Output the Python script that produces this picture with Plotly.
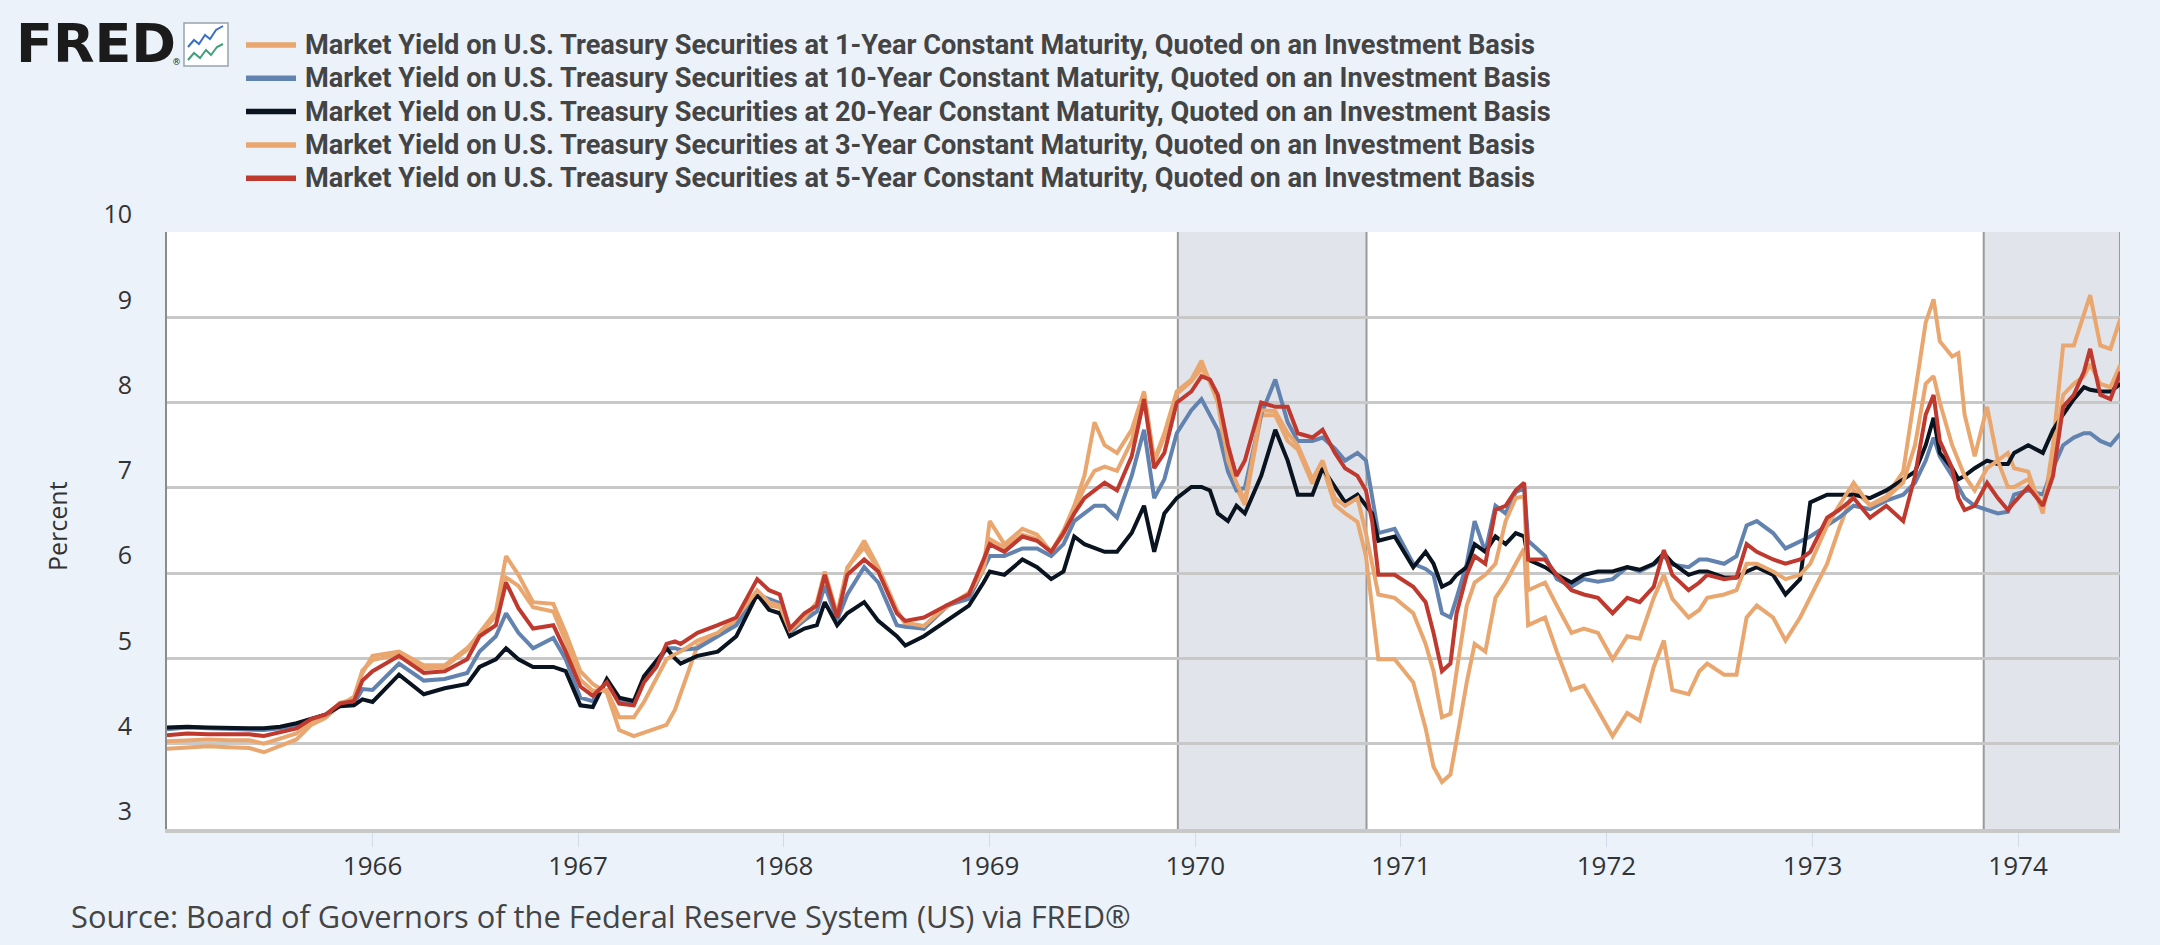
"""
plot.py
Rendimentos diários dos Treasuries (1, 3, 5, 10 e 20 anos), 1965-1974, no estilo do FRED.
"""

import pandas as pd
import plotly.graph_objects as go

# --- dados (ano decimal, % a.a.) ---
T_YEAR = [
    1965.00, 1965.10, 1965.20, 1965.30, 1965.40, 1965.47, 1965.55, 1965.63, 1965.70, 1965.77,
    1965.84, 1965.91, 1965.95, 1966.00, 1966.13, 1966.25, 1966.35, 1966.46, 1966.52, 1966.60,
    1966.65, 1966.71, 1966.78, 1966.88, 1966.94, 1967.01, 1967.07, 1967.14, 1967.20, 1967.27,
    1967.32, 1967.38, 1967.43, 1967.47, 1967.50, 1967.58, 1967.68, 1967.77, 1967.87, 1967.93,
    1967.98, 1968.03, 1968.10, 1968.16, 1968.20, 1968.26, 1968.31, 1968.39, 1968.46, 1968.55,
    1968.59, 1968.68, 1968.79, 1968.90, 1968.97, 1969.00, 1969.07, 1969.16, 1969.23, 1969.30,
    1969.36, 1969.41, 1969.46, 1969.51, 1969.56, 1969.62, 1969.69, 1969.75, 1969.80, 1969.85,
    1969.91, 1969.98, 1970.03, 1970.07, 1970.11, 1970.16, 1970.20, 1970.24, 1970.32, 1970.39,
    1970.45, 1970.50, 1970.57, 1970.62, 1970.68, 1970.73, 1970.79, 1970.83, 1970.86, 1970.89,
    1970.97, 1971.06, 1971.12, 1971.16, 1971.20, 1971.24, 1971.27, 1971.32, 1971.36, 1971.41,
    1971.46, 1971.51, 1971.56, 1971.60, 1971.62, 1971.70, 1971.76, 1971.83, 1971.89, 1971.96,
    1972.03, 1972.10, 1972.16, 1972.23, 1972.28, 1972.32, 1972.40, 1972.45, 1972.49, 1972.57,
    1972.63, 1972.68, 1972.73, 1972.81, 1972.87, 1972.94, 1972.99, 1973.07, 1973.13, 1973.20,
    1973.28, 1973.36, 1973.44, 1973.50, 1973.55, 1973.59, 1973.62, 1973.68, 1973.71, 1973.74,
    1973.79, 1973.85, 1973.90, 1973.95, 1973.98, 1974.05, 1974.12, 1974.17, 1974.22, 1974.27,
    1974.32, 1974.35, 1974.40, 1974.45, 1974.50,
]

DGS1 = [
    3.94, 3.95, 3.97, 3.96, 3.95, 3.90, 3.97, 4.05, 4.22, 4.30,
    4.45, 4.55, 4.86, 4.98, 5.05, 4.88, 4.90, 5.10, 5.30, 5.55,
    6.20, 5.98, 5.66, 5.64, 5.30, 4.85, 4.70, 4.60, 4.16, 4.09,
    4.13, 4.18, 4.22, 4.40, 4.58, 5.15, 5.28, 5.45, 5.75, 5.62,
    5.60, 5.32, 5.45, 5.64, 5.95, 5.50, 6.05, 6.38, 6.07, 5.57,
    5.40, 5.35, 5.60, 5.77, 6.07, 6.61, 6.34, 6.52, 6.45, 6.25,
    6.50, 6.79, 7.14, 7.77, 7.50, 7.41, 7.68, 8.13, 7.32, 7.64,
    8.13, 8.27, 8.49, 8.22, 8.00, 7.25, 7.00, 6.80, 7.85, 7.85,
    7.55, 7.45, 7.05, 7.25, 6.80, 6.70, 6.60, 6.20, 5.60, 4.99,
    4.99, 4.72, 4.18, 3.73, 3.55, 3.64, 4.04, 4.72, 5.17, 5.08,
    5.71, 5.89, 6.11, 6.29, 5.39, 5.48, 5.08, 4.63, 4.68, 4.40,
    4.09, 4.36, 4.27, 4.90, 5.21, 4.63, 4.58, 4.85, 4.94, 4.81,
    4.81, 5.48, 5.62, 5.48, 5.21, 5.48, 5.71, 6.11, 6.52, 6.97,
    6.80, 6.90, 7.19, 8.13, 8.94, 9.21, 8.72, 8.54, 8.58, 7.86,
    7.37, 7.95, 7.32, 7.41, 7.23, 7.19, 6.70, 7.50, 8.67, 8.67,
    9.03, 9.26, 8.67, 8.63, 8.99,
]

DGS3 = [
    4.03, 4.04, 4.05, 4.04, 4.04, 4.00, 4.06, 4.12, 4.27, 4.33,
    4.48, 4.52, 4.83, 5.03, 5.08, 4.92, 4.92, 5.12, 5.28, 5.50,
    5.95, 5.85, 5.60, 5.55, 5.20, 4.75, 4.62, 4.63, 4.31, 4.31,
    4.49, 4.76, 4.99, 5.05, 5.08, 5.21, 5.30, 5.48, 5.80, 5.66,
    5.62, 5.33, 5.48, 5.66, 6.02, 5.52, 6.07, 6.30, 6.05, 5.55,
    5.42, 5.38, 5.62, 5.75, 6.05, 6.40, 6.30, 6.45, 6.40, 6.25,
    6.45, 6.75, 7.00, 7.20, 7.25, 7.20, 7.55, 8.10, 7.30, 7.60,
    8.10, 8.25, 8.40, 8.25, 8.05, 7.32, 7.06, 6.85, 7.91, 7.90,
    7.64, 7.50, 7.10, 7.32, 6.88, 6.79, 6.88, 6.47, 6.11, 5.75,
    5.71, 5.53, 5.17, 4.85, 4.31, 4.35, 4.85, 5.62, 5.89, 5.98,
    6.11, 6.61, 6.88, 6.90, 5.80, 5.89, 5.62, 5.30, 5.35, 5.30,
    4.99, 5.26, 5.23, 5.71, 5.98, 5.70, 5.48, 5.57, 5.71, 5.75,
    5.80, 6.11, 6.11, 6.02, 5.93, 5.98, 6.11, 6.56, 6.79, 7.06,
    6.79, 6.88, 7.06, 7.50, 8.22, 8.31, 8.00, 7.50, 7.32, 7.14,
    6.97, 7.23, 7.32, 7.01, 7.01, 7.10, 6.79, 7.32, 8.09, 8.22,
    8.31, 8.45, 8.22, 8.18, 8.45,
]

DGS5 = [
    4.10, 4.12, 4.11, 4.11, 4.11, 4.09, 4.13, 4.18, 4.29, 4.34,
    4.47, 4.50, 4.74, 4.85, 5.03, 4.83, 4.85, 4.99, 5.26, 5.39,
    5.89, 5.59, 5.35, 5.39, 5.08, 4.67, 4.56, 4.72, 4.47, 4.45,
    4.72, 4.90, 5.17, 5.20, 5.17, 5.30, 5.39, 5.48, 5.93, 5.80,
    5.75, 5.35, 5.53, 5.62, 5.98, 5.48, 5.98, 6.16, 6.02, 5.53,
    5.44, 5.48, 5.62, 5.75, 6.16, 6.34, 6.25, 6.43, 6.38, 6.25,
    6.47, 6.70, 6.88, 6.97, 7.06, 6.97, 7.37, 8.04, 7.23, 7.41,
    8.00, 8.13, 8.31, 8.27, 8.09, 7.50, 7.14, 7.32, 8.00, 7.95,
    7.95, 7.64, 7.59, 7.68, 7.41, 7.23, 7.14, 6.97, 6.61, 5.98,
    5.98, 5.84, 5.66, 5.30, 4.85, 4.94, 5.53, 5.98, 6.20, 6.11,
    6.74, 6.79, 6.97, 7.06, 6.16, 6.16, 5.98, 5.80, 5.75, 5.71,
    5.53, 5.71, 5.66, 5.84, 6.27, 5.98, 5.80, 5.89, 5.98, 5.93,
    5.95, 6.34, 6.25, 6.16, 6.11, 6.16, 6.25, 6.65, 6.74, 6.88,
    6.65, 6.79, 6.61, 7.14, 7.86, 8.09, 7.55, 7.23, 6.88, 6.74,
    6.79, 7.06, 6.88, 6.74, 6.83, 7.01, 6.79, 7.14, 7.95, 8.09,
    8.36, 8.63, 8.09, 8.04, 8.36,
]

DGS10 = [
    4.17, 4.19, 4.18, 4.17, 4.17, 4.16, 4.18, 4.22, 4.28, 4.33,
    4.45, 4.47, 4.64, 4.63, 4.94, 4.74, 4.76, 4.83, 5.08, 5.26,
    5.53, 5.30, 5.12, 5.24, 4.99, 4.54, 4.50, 4.74, 4.50, 4.47,
    4.74, 4.92, 5.12, 5.12, 5.10, 5.12, 5.26, 5.39, 5.75, 5.70,
    5.65, 5.30, 5.45, 5.55, 5.85, 5.45, 5.75, 6.07, 5.89, 5.39,
    5.37, 5.35, 5.62, 5.70, 6.07, 6.20, 6.20, 6.29, 6.29, 6.20,
    6.34, 6.61, 6.70, 6.79, 6.79, 6.65, 7.14, 7.68, 6.88, 7.10,
    7.64, 7.91, 8.04, 7.86, 7.68, 7.19, 6.97, 7.00, 7.86, 8.27,
    7.77, 7.55, 7.55, 7.59, 7.46, 7.32, 7.41, 7.32, 6.88, 6.47,
    6.52, 6.11, 6.05, 5.98, 5.53, 5.48, 5.71, 6.11, 6.61, 6.25,
    6.79, 6.70, 6.95, 7.00, 6.38, 6.20, 5.93, 5.84, 5.93, 5.90,
    5.93, 6.07, 6.02, 6.10, 6.20, 6.10, 6.07, 6.16, 6.16, 6.11,
    6.20, 6.56, 6.61, 6.47, 6.29, 6.38, 6.43, 6.56, 6.65, 6.79,
    6.75, 6.85, 6.92, 7.06, 7.32, 7.59, 7.37, 7.14, 7.00, 6.88,
    6.79, 6.74, 6.70, 6.72, 6.92, 6.97, 6.92, 7.23, 7.50, 7.59,
    7.64, 7.64, 7.55, 7.50, 7.64,
]

DGS20 = [
    4.19, 4.20, 4.19, 4.18, 4.18, 4.18, 4.20, 4.24, 4.29, 4.34,
    4.44, 4.45, 4.52, 4.49, 4.81, 4.58, 4.65, 4.70, 4.90, 4.99,
    5.12, 4.99, 4.90, 4.90, 4.85, 4.45, 4.43, 4.76, 4.54, 4.50,
    4.79, 4.97, 5.12, 5.00, 4.94, 5.03, 5.08, 5.26, 5.75, 5.57,
    5.53, 5.26, 5.35, 5.39, 5.66, 5.39, 5.53, 5.66, 5.44, 5.26,
    5.15, 5.26, 5.44, 5.62, 5.89, 6.02, 5.98, 6.16, 6.07, 5.93,
    6.02, 6.43, 6.34, 6.29, 6.25, 6.25, 6.47, 6.79, 6.25, 6.70,
    6.88, 7.01, 7.01, 6.97, 6.70, 6.61, 6.79, 6.70, 7.14, 7.68,
    7.32, 6.92, 6.92, 7.23, 7.01, 6.83, 6.92, 6.79, 6.70, 6.38,
    6.43, 6.07, 6.25, 6.11, 5.84, 5.89, 5.98, 6.07, 6.34, 6.25,
    6.43, 6.34, 6.47, 6.43, 6.16, 6.07, 5.98, 5.89, 5.98, 6.02,
    6.02, 6.07, 6.04, 6.11, 6.23, 6.12, 5.98, 6.02, 6.02, 5.95,
    5.95, 6.02, 6.07, 5.98, 5.75, 5.93, 6.83, 6.92, 6.92, 6.92,
    6.88, 6.97, 7.10, 7.19, 7.50, 7.82, 7.41, 7.23, 7.10, 7.14,
    7.23, 7.32, 7.28, 7.28, 7.41, 7.50, 7.41, 7.68, 7.86, 8.04,
    8.18, 8.15, 8.13, 8.13, 8.22,
]

NAMES = [
    "Market Yield on U.S. Treasury Securities at 1-Year Constant Maturity, Quoted on an Investment Basis",
    "Market Yield on U.S. Treasury Securities at 10-Year Constant Maturity, Quoted on an Investment Basis",
    "Market Yield on U.S. Treasury Securities at 20-Year Constant Maturity, Quoted on an Investment Basis",
    "Market Yield on U.S. Treasury Securities at 3-Year Constant Maturity, Quoted on an Investment Basis",
    "Market Yield on U.S. Treasury Securities at 5-Year Constant Maturity, Quoted on an Investment Basis",
]
COLORS = ["#e9a76f", "#6283b0", "#0a1320", "#e9a76f", "#c0392f"]

RECESSIONS = [("1969-12-01", "1970-11-01"), ("1973-11-01", "1975-03-01")]
X_RANGE = ["1965-01-01", "1974-07-01"]
TICK_YEARS = [1966, 1967, 1968, 1969, 1970, 1971, 1972, 1973, 1974]
Y_RANGE = [3, 10]

Y_TITLE = "Percent"
SOURCE = "Source: Board of Governors of the Federal Reserve System (US) via FRED®"

# --- geometria da página (px) ---
W, H = 2160, 945
M_L, M_R, M_T, M_B = 167, 40, 232, 116
PLOT_W = W - M_L - M_R
PLOT_H = H - M_T - M_B

BG = "#ebf2fa"
GRID = "#c8c8c8"
TXT = "#333333"


def _to_date(t: float) -> pd.Timestamp:
    """Ano decimal -> data."""
    year = int(t)
    start = pd.Timestamp(year=year, month=1, day=1)
    days = (pd.Timestamp(year=year + 1, month=1, day=1) - start).days
    return start + pd.Timedelta(days=round((t - year) * days))


def _px(x):
    return (x - M_L) / PLOT_W


def _py(y):
    return (H - M_B - y) / PLOT_H


def _path(points):
    return "M " + " L ".join(f"{_px(x)},{_py(y)}" for x, y in points)


dates = [_to_date(t) for t in T_YEAR]
series = [DGS1, DGS10, DGS20, DGS3, DGS5]

fig = go.Figure()
for name, values, color in zip(NAMES, series, COLORS):
    fig.add_trace(go.Scatter(
        x=dates, y=values, name=name, mode="lines",
        line=dict(color=color, width=4),
    ))

# --- recessões ---
for start, end in RECESSIONS:
    fig.add_shape(type="rect", xref="x", yref="paper", x0=start, x1=end, y0=0, y1=1,
                  fillcolor="#e1e4ea", line_width=0, layer="below")
    for edge in (start, min(end, X_RANGE[1])):
        fig.add_shape(type="line", xref="x", yref="paper", x0=edge, x1=edge, y0=0, y1=1,
                      line=dict(color="#9a9a9a", width=2), layer="below")

# --- legenda (linhas de 50 px, como no FRED) ---
for i, (name, color) in enumerate(zip(NAMES, COLORS)):
    row_y = 45 + i * 33.3
    fig.add_shape(type="line", xref="paper", yref="paper",
                  x0=_px(246), x1=_px(296), y0=_py(row_y), y1=_py(row_y),
                  line=dict(color=color, width=5.5))
    fig.add_annotation(xref="paper", yref="paper", x=_px(303), y=_py(row_y), text=name,
                       showarrow=False, xanchor="left", yanchor="middle",
                       font=dict(family="Roboto", size=27.2, color="#444444", weight=700))

# --- logo FRED ---
fig.add_annotation(xref="paper", yref="paper", x=_px(96), y=_py(44), text="<b>FRED</b>",
                   showarrow=False, xanchor="center", yanchor="middle",
                   font=dict(family="DejaVu Sans", size=54, color="#1b1b1b"))
fig.add_annotation(xref="paper", yref="paper", x=_px(176), y=_py(62), text="®",
                   showarrow=False, xanchor="center", yanchor="middle",
                   font=dict(family="DejaVu Sans", size=9, color="#1b1b1b"))
fig.add_shape(type="rect", xref="paper", yref="paper",
              x0=_px(184), x1=_px(228), y0=_py(66), y1=_py(23),
              fillcolor="white", line=dict(color="#9aa3ad", width=1.5))
fig.add_shape(type="path", xref="paper", yref="paper",
              path=_path([(188, 47), (194, 40), (199, 44), (205, 35), (210, 39), (216, 30), (223, 26)]),
              line=dict(color="#3b6fc4", width=2))
fig.add_shape(type="path", xref="paper", yref="paper",
              path=_path([(188, 60), (194, 53), (200, 58), (206, 50), (211, 55), (217, 47), (223, 44)]),
              line=dict(color="#3fa07a", width=2))

# --- título do eixo y e fonte ---
fig.add_annotation(xref="paper", yref="paper", x=_px(57), y=_py(526), text=Y_TITLE,
                   showarrow=False, textangle=-90, xanchor="center", yanchor="middle",
                   font=dict(family="Open Sans", size=25, color=TXT))
fig.add_annotation(xref="paper", yref="paper", x=_px(69), y=_py(916), text=SOURCE,
                   showarrow=False, xanchor="left", yanchor="middle",
                   font=dict(family="Open Sans", size=30.8, color="#444444"))

fig.update_layout(
    width=W, height=H,
    margin=dict(l=M_L, r=M_R, t=M_T, b=M_B, autoexpand=False),
    paper_bgcolor=BG, plot_bgcolor="white",
    showlegend=False,
    xaxis=dict(
        type="date", range=X_RANGE,
        tickvals=[f"{y}-01-01" for y in TICK_YEARS], ticktext=[str(y) for y in TICK_YEARS],
        tickangle=0,
        showgrid=False, showline=True, linecolor=GRID, linewidth=4,
        ticks="outside", ticklen=14, tickwidth=1, tickcolor="#d3dbe8",
        ticklabelstandoff=-3,
        tickfont=dict(family="Open Sans", size=26, color=TXT),
    ),
    yaxis=dict(
        range=Y_RANGE, dtick=1,
        showgrid=True, gridcolor=GRID, gridwidth=3,
        showline=True, linecolor="#8c8c8c", linewidth=2,
        zeroline=False, ticks="", ticklabelposition="outside top", ticklabelstandoff=28,
        tickfont=dict(family="Open Sans", size=25, color=TXT),
    ),
)

# a página do plotly tem margem de 8 px no body; zera para alinhar com a captura
fig.write_html("out.html", config={"displayModeBar": False},
               post_script="document.body.style.margin = '0';")
